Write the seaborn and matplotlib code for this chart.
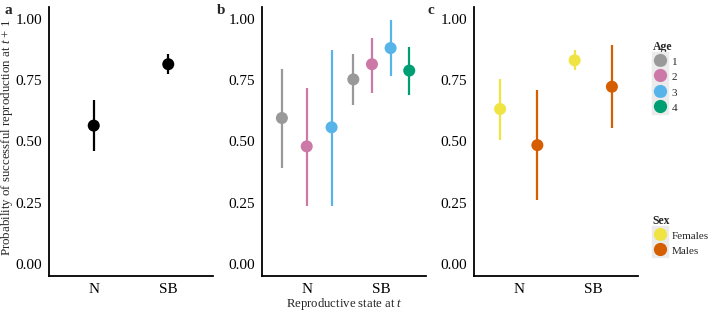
import matplotlib
matplotlib.use("Agg")
import matplotlib.pyplot as plt
from matplotlib.lines import Line2D
import pandas as pd
import seaborn as sns

# ---- data ----
STATES = ["N", "SB"]

# panel a: overall
a_state = ["N", "SB"]
a_mean = [0.565, 0.816]
a_lo = [0.460, 0.775]
a_hi = [0.668, 0.856]

# panel b: by age
b_state = ["N", "N", "N", "SB", "SB", "SB", "SB"]
b_age = ["1", "2", "3", "1", "2", "3", "4"]
b_mean = [0.596, 0.480, 0.558, 0.754, 0.816, 0.882, 0.790]
b_lo = [0.393, 0.238, 0.238, 0.651, 0.700, 0.768, 0.690]
b_hi = [0.798, 0.718, 0.876, 0.856, 0.925, 0.997, 0.888]

# panel c: by sex
c_state = ["N", "N", "SB", "SB"]
c_sex = ["Females", "Males", "Females", "Males"]
c_mean = [0.633, 0.485, 0.832, 0.724]
c_lo = [0.508, 0.261, 0.791, 0.555]
c_hi = [0.756, 0.709, 0.876, 0.894]

AGE_LEVELS = ["1", "2", "3", "4"]
AGE_COLORS = ["#999999", "#CC79A7", "#56B4E9", "#009E73"]
SEX_LEVELS = ["Females", "Males"]
SEX_COLORS = ["#F0E442", "#D55E00"]

DODGE = 1.0


def dodge_positions(df, group_col):
    # ggplot-style position_dodge: centre the groups present at each x
    xs = []
    for _, row in df.iterrows():
        base = STATES.index(row["state"])
        if group_col is None:
            xs.append(float(base))
            continue
        present = list(df.loc[df["state"] == row["state"], group_col])
        n = len(present)
        i = present.index(row[group_col])
        xs.append(base - DODGE / 2 + (i + 0.5) * DODGE / n)
    return xs


def draw_panel(ax, df, group_col=None, levels=None, colors=None):
    df = df.copy()
    df["x"] = dodge_positions(df, group_col)
    if group_col is None:
        cols = ["black"] * len(df)
    else:
        cmap = dict(zip(levels, colors))
        cols = [cmap[g] for g in df[group_col]]
    ax.vlines(df["x"], df["lo"], df["hi"], colors=cols, lw=1.6, zorder=2)
    if group_col is None:
        sns.scatterplot(data=df, x="x", y="mean", color="black", s=75,
                        edgecolor="none", legend=False, ax=ax, zorder=3)
    else:
        sns.scatterplot(data=df, x="x", y="mean", hue=group_col,
                        hue_order=levels, palette=colors, s=75,
                        edgecolor="none", legend=False, ax=ax, zorder=3)
    ax.set_xlim(-0.6, 1.6)
    ax.set_ylim(-0.05, 1.05)
    ax.set_xticks(range(len(STATES)))
    ax.set_xticklabels(STATES)
    ax.set_yticks([0, 0.25, 0.5, 0.75, 1.0])
    ax.set_yticklabels(["0.00", "0.25", "0.50", "0.75", "1.00"])
    ax.set_xlabel("")
    ax.set_ylabel("")
    for side in ["top", "right"]:
        ax.spines[side].set_visible(False)
    for side in ["left", "bottom"]:
        ax.spines[side].set_linewidth(1.3)
        ax.spines[side].set_color("black")
    ax.tick_params(length=3, width=0.8, labelsize=11, pad=2, colors="black")


def main():
    sns.set_theme(style="white")
    plt.rcParams["font.family"] = ["Liberation Serif", "DejaVu Serif"]
    plt.rcParams["mathtext.fontset"] = "custom"
    plt.rcParams["mathtext.rm"] = "Liberation Serif"
    plt.rcParams["mathtext.it"] = "Liberation Serif:italic"

    df_a = pd.DataFrame({"state": a_state, "mean": a_mean, "lo": a_lo, "hi": a_hi})
    df_b = pd.DataFrame({"state": b_state, "age": b_age, "mean": b_mean, "lo": b_lo, "hi": b_hi})
    df_c = pd.DataFrame({"state": c_state, "sex": c_sex, "mean": c_mean, "lo": c_lo, "hi": c_hi})

    W, H = 709, 311
    fig = plt.figure(figsize=(W / 100, H / 100), dpi=100)
    bottom, top = 1 - 276 / H, 1 - 7 / H
    lefts = [49, 262, 474]
    width = 164
    axes = [fig.add_axes([l / W, bottom, width / W, top - bottom]) for l in lefts]

    draw_panel(axes[0], df_a)
    draw_panel(axes[1], df_b, "age", AGE_LEVELS, AGE_COLORS)
    draw_panel(axes[2], df_c, "sex", SEX_LEVELS, SEX_COLORS)

    ax_h = 276 - 7
    axes[0].set_ylabel(r"Probability of successful reproduction at $\it{t}$ + 1",
                       fontsize=9.3)
    # label coords anchor the right edge (rotated text bottom)
    axes[0].yaxis.set_label_coords((15 - 49) / width, (276 - 137) / ax_h)
    axes[1].set_xlabel(r"Reproductive state at $\it{t}$", fontsize=9.2)
    axes[1].xaxis.set_label_coords(0.5, (276 - 296) / ax_h)

    for lbl, x in zip(["a", "b", "c"], [8, 221, 431]):
        fig.text(x / W, 1 - 11 / H, lbl, fontsize=11, fontweight="bold",
                 ha="center", va="center")

    def key(color):
        bg = Line2D([], [], marker="s", ms=12, color="#EBEBEB", ls="")
        dot = Line2D([], [], marker="o", ms=8.5, color=color, ls="")
        return (bg, dot)

    leg_kw = dict(frameon=False, fontsize=8, title_fontsize=8.5, handlelength=1.25,
                  handleheight=1.4, labelspacing=0.22, handletextpad=0.5,
                  borderpad=0, alignment="left")
    leg1 = fig.legend([key(c) for c in AGE_COLORS], AGE_LEVELS, title="Age",
                      loc="upper left", bbox_to_anchor=(647 / W, 1 - 35 / H), **leg_kw)
    leg1.get_title().set_fontweight("bold")
    leg2 = fig.legend([key(c) for c in SEX_COLORS], SEX_LEVELS, title="Sex",
                      loc="upper left", bbox_to_anchor=(647 / W, 1 - 209 / H), **leg_kw)
    leg2.get_title().set_fontweight("bold")

    fig.savefig("out.png", dpi=100)


if __name__ == "__main__":
    main()
